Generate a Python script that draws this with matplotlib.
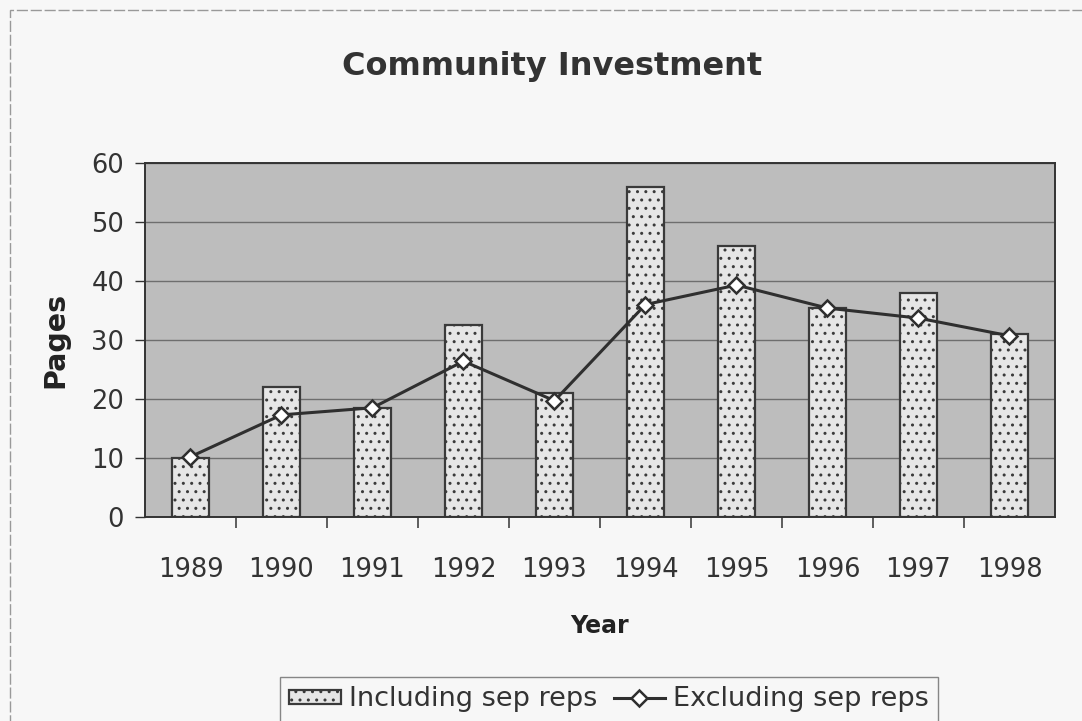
import matplotlib
matplotlib.use("Agg")
import matplotlib.pyplot as plt
import numpy as np
from matplotlib.patches import Rectangle

years = ["1989", "1990", "1991", "1992", "1993", "1994", "1995", "1996", "1997", "1998"]
including = [10, 22, 18.5, 32.5, 21, 56, 46, 35.5, 38, 31]
excluding = [10.2, 17.3, 18.5, 26.4, 19.7, 36, 39.3, 35.4, 33.7, 30.7]

plt.rcParams['font.family'] = ['DejaVu Sans']
plt.rcParams['hatch.color'] = '#8c8c8c'
plt.rcParams['hatch.linewidth'] = 1.0

fig = plt.figure(figsize=(10.82, 7.21), dpi=100)
fig.patch.set_facecolor('#f7f7f7')
ax = fig.add_axes([0.134, 0.283, 0.841, 0.491])

# Background plot area (dotted gray texture)
ax.set_facecolor('#b6b6b6')
bg = Rectangle((0, 0), 1, 1, transform=ax.transAxes, facecolor='#bdbdbd',
               edgecolor='none', hatch='....', zorder=0)
ax.add_patch(bg)

x = np.arange(len(years))
ax.set_yticks([0, 10, 20, 30, 40, 50, 60])
ax.yaxis.grid(True, color='#6e6e6e', linewidth=1.0, zorder=1)
ax.set_axisbelow(True)

bars = ax.bar(x, including, width=0.4, facecolor='#e6e6e6', edgecolor='#3a3a3a',
              linewidth=1.6, hatch='..', zorder=2, label='Including sep reps')
ax.plot(x, excluding, color='#2f2f2f', linewidth=2.2, marker='D', markersize=8,
        markerfacecolor='white', markeredgecolor='#2f2f2f', markeredgewidth=1.8,
        zorder=3, label='Excluding sep reps')

ax.set_xlim(-0.5, len(years) - 0.5)
ax.set_ylim(0, 60)
ax.set_xticks(x)
ax.set_xticklabels(years)
ax.set_xticks(np.arange(0.5, len(years) - 0.5, 1), minor=True)
ax.tick_params(axis='x', which='major', length=0, pad=29, labelsize=18.5, colors='#333333')
ax.tick_params(axis='x', which='minor', length=8, width=1.2, direction='out', color='#444')
ax.tick_params(axis='y', length=7, labelsize=18.5, colors='#333333', width=1.0, pad=8)

for s in ax.spines.values():
    s.set_color('#333333')
    s.set_linewidth(1.4)

ax.set_xlabel('Year', fontsize=17, fontweight='bold', color='#222222', labelpad=22)
ax.set_ylabel('Pages', fontsize=20.5, fontweight='bold', color='#222222', labelpad=16)
fig.text(0.51, 1 - 66 / 721, 'Community Investment', ha='center', va='center',
         fontsize=23, fontweight='bold', color='#333333')

handles, labels = ax.get_legend_handles_labels()
order = [labels.index('Including sep reps'), labels.index('Excluding sep reps')]
leg = fig.legend([handles[i] for i in order], [labels[i] for i in order],
                 loc='upper center', bbox_to_anchor=(0.563, 1 - 677 / 721), ncol=2,
                 frameon=True, fancybox=False, fontsize=19.5, handlelength=1.9,
                 handleheight=0.45, columnspacing=0.6, handletextpad=0.3,
                 borderpad=0.35, borderaxespad=0)
leg.get_frame().set_edgecolor('#6a6a6a')
leg.get_frame().set_facecolor('#f7f7f7')
for t in leg.get_texts():
    t.set_color('#333333')

# Outer dashed chart border (right edge lies outside the image)
border = Rectangle((0.009, -0.05), 1.1, 1.036, transform=fig.transFigure, fill=False,
                   edgecolor='#999999', linestyle=(0, (8, 2)), linewidth=1.0)
fig.patches.append(border)

fig.savefig('out.png', dpi=100, facecolor=fig.get_facecolor())
